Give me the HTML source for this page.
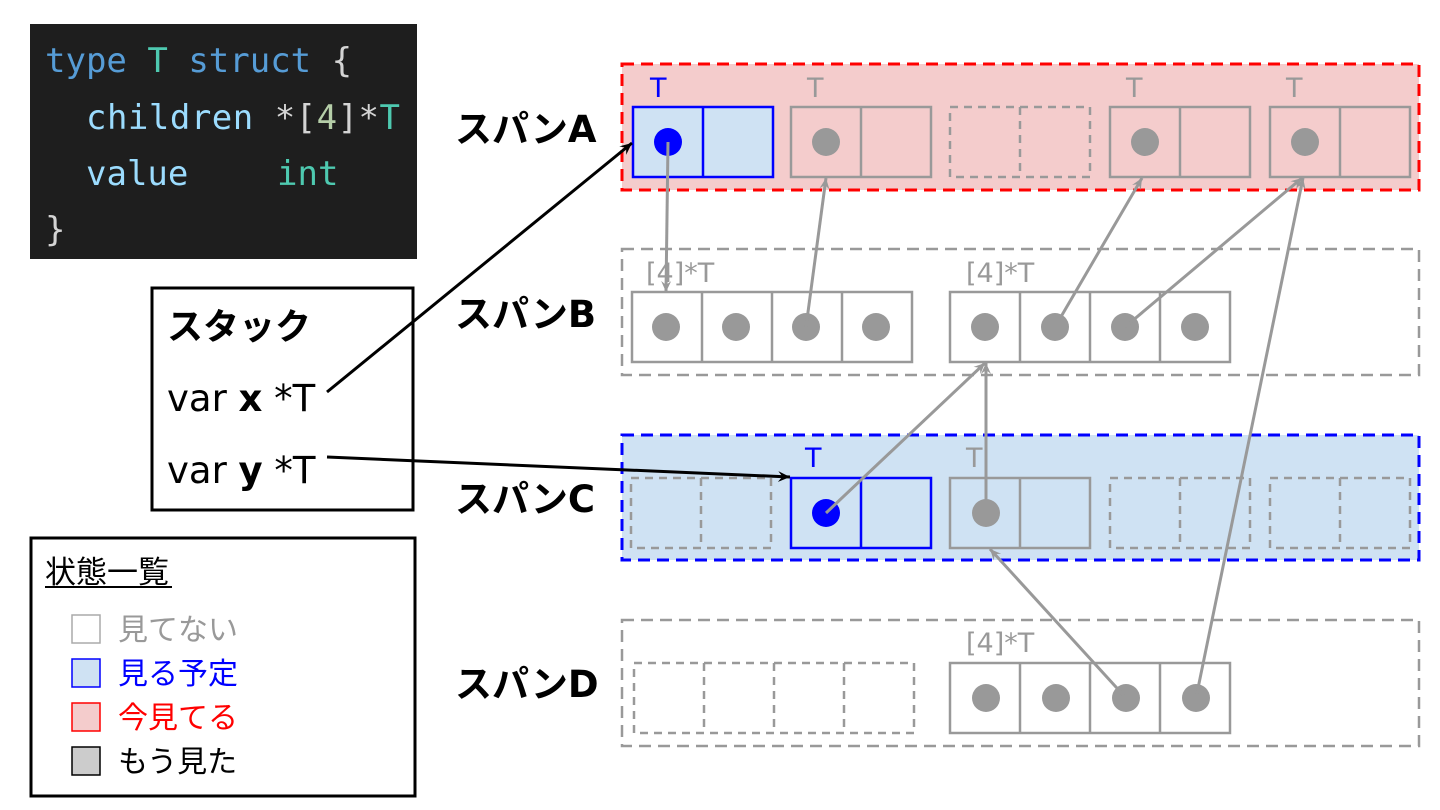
<!DOCTYPE html>
<html><head><meta charset="utf-8"><style>
html,body{margin:0;padding:0;background:#fff;width:1440px;height:810px;overflow:hidden}
svg text{font-family:"DejaVu Sans","Noto Sans CJK JP",sans-serif}
svg text.mono{font-family:"DejaVu Sans Mono","Liberation Mono",monospace}
</style></head><body>
<svg width="1440" height="810" viewBox="0 0 1440 810" xmlns="http://www.w3.org/2000/svg">
<defs>
<marker id="ag" viewBox="0 0 12 12" refX="11" refY="6" markerWidth="12" markerHeight="12" markerUnits="userSpaceOnUse" orient="auto"><path d="M0,1 L11,6 L0,11 L4,6 Z" fill="#999"/></marker>
<marker id="ak" viewBox="0 0 12 12" refX="11" refY="6" markerWidth="13" markerHeight="13" markerUnits="userSpaceOnUse" orient="auto"><path d="M0,1 L11,6 L0,11 L4,6 Z" fill="#000"/></marker>
</defs>
<!-- code block -->
<rect x="30" y="24" width="387" height="235" fill="#1e1e1e"/>
<text class="mono" x="45" y="72" font-size="34"><tspan fill="#569cd6">type </tspan><tspan fill="#4ec9b0">T</tspan><tspan fill="#569cd6"> struct</tspan><tspan fill="#d4d4d4"> {</tspan></text>
<text class="mono" x="86" y="129" font-size="34" textLength="314"><tspan fill="#9cdcfe">children </tspan><tspan fill="#d4d4d4">*[</tspan><tspan fill="#b5cea8">4</tspan><tspan fill="#d4d4d4">]*</tspan><tspan fill="#4ec9b0">T</tspan></text>
<text class="mono" x="86" y="185" font-size="34" fill="#9cdcfe">value</text>
<text class="mono" x="277" y="185" font-size="34" fill="#4ec9b0">int</text>
<text class="mono" x="45" y="241" font-size="34" fill="#d4d4d4">}</text>
<!-- stack -->
<rect x="152" y="288" width="261" height="222" fill="#fff" stroke="#000" stroke-width="3"/>
<text x="167" y="339" font-size="36" font-weight="bold">スタック</text>
<text x="167" y="411" font-size="37">var <tspan font-weight="bold">x</tspan> *T</text>
<text x="167" y="483" font-size="37">var <tspan font-weight="bold">y</tspan> *T</text>
<!-- legend -->
<rect x="31" y="538" width="384" height="258" fill="#fff" stroke="#000" stroke-width="3"/>
<text x="45" y="583" font-size="31">状態一覧</text>
<line x1="45" y1="587" x2="172" y2="587" stroke="#000" stroke-width="2"/>
<rect x="72" y="615" width="28" height="28" fill="#fff" stroke="#aaa" stroke-width="1.5"/>
<text x="118" y="640" font-size="30" fill="#999">見てない</text>
<rect x="72" y="659" width="28" height="28" fill="#cfe2f3" stroke="#00f" stroke-width="1.5"/>
<text x="118" y="684" font-size="30" fill="#00f">見る予定</text>
<rect x="72" y="703" width="28" height="28" fill="#f4cccc" stroke="#f00" stroke-width="1.5"/>
<text x="118" y="728" font-size="30" fill="#f00">今見てる</text>
<rect x="72" y="747" width="28" height="28" fill="#ccc" stroke="#000" stroke-width="1.5"/>
<text x="118" y="772" font-size="30" fill="#000">もう見た</text>
<!-- span labels -->
<g font-size="37" font-weight="bold">
<text x="455" y="142">スパンA</text>
<text x="455" y="327">スパンB</text>
<text x="455" y="512">スパンC</text>
<text x="455" y="697">スパンD</text>
</g>
<!-- span frames -->
<rect x="622" y="64" width="797" height="126" fill="#f4cccc" stroke="#f00" stroke-width="3" stroke-dasharray="12,7"/>
<rect x="622" y="249" width="797" height="126" fill="#fff" stroke="#999" stroke-width="2.5" stroke-dasharray="12,7"/>
<rect x="622" y="435" width="797" height="125" fill="#cfe2f3" stroke="#00f" stroke-width="3" stroke-dasharray="12,7"/>
<rect x="622" y="620" width="797" height="126" fill="#fff" stroke="#999" stroke-width="2.5" stroke-dasharray="12,7"/>
<!-- span A cells -->
<g stroke-width="2.5" fill="none">
<rect x="633" y="107" width="140" height="70" fill="#cfe2f3" stroke="#00f"/><line x1="703" y1="107" x2="703" y2="177" stroke="#00f"/>
<rect x="791" y="107" width="140" height="70" stroke="#999"/><line x1="861" y1="107" x2="861" y2="177" stroke="#999"/>
<rect x="950" y="107" width="140" height="70" stroke="#999" stroke-dasharray="8,6"/><line x1="1020" y1="107" x2="1020" y2="177" stroke="#999" stroke-dasharray="8,6"/>
<rect x="1110" y="107" width="140" height="70" stroke="#999"/><line x1="1180" y1="107" x2="1180" y2="177" stroke="#999"/>
<rect x="1270" y="107" width="140" height="70" stroke="#999"/><line x1="1340" y1="107" x2="1340" y2="177" stroke="#999"/>
</g>
<g font-size="27">
<text x="650" y="97" fill="#00f">T</text>
<text x="807" y="97" fill="#999">T</text>
<text x="1126" y="97" fill="#999">T</text>
<text x="1286" y="97" fill="#999">T</text>
<text x="646" y="282" fill="#999">[4]*T</text>
<text x="966" y="282" fill="#999">[4]*T</text>
<text x="805" y="467" fill="#00f">T</text>
<text x="966" y="467" fill="#999">T</text>
<text x="966" y="652" fill="#999">[4]*T</text>
</g>
<circle cx="668" cy="142" r="14" fill="#00f"/>
<circle cx="826" cy="142" r="14" fill="#999"/>
<circle cx="1145" cy="142" r="14" fill="#999"/>
<circle cx="1305" cy="142" r="14" fill="#999"/>
<!-- span B cells -->
<g stroke="#999" stroke-width="2.5" fill="none">
<rect x="632" y="292" width="280" height="70"/><line x1="702" y1="292" x2="702" y2="362"/><line x1="772" y1="292" x2="772" y2="362"/><line x1="842" y1="292" x2="842" y2="362"/>
<rect x="950" y="292" width="280" height="70"/><line x1="1020" y1="292" x2="1020" y2="362"/><line x1="1090" y1="292" x2="1090" y2="362"/><line x1="1160" y1="292" x2="1160" y2="362"/>
</g>
<g fill="#999">
<circle cx="666" cy="327" r="14"/><circle cx="736" cy="327" r="14"/><circle cx="806" cy="327" r="14"/><circle cx="876" cy="327" r="14"/>
<circle cx="985" cy="327" r="14"/><circle cx="1055" cy="327" r="14"/><circle cx="1125" cy="327" r="14"/><circle cx="1195" cy="327" r="14"/>
</g>
<!-- span C cells -->
<g stroke-width="2.5" fill="none">
<rect x="631" y="478" width="140" height="70" stroke="#999" stroke-dasharray="8,6"/><line x1="701" y1="478" x2="701" y2="548" stroke="#999" stroke-dasharray="8,6"/>
<rect x="791" y="478" width="140" height="70" stroke="#00f"/><line x1="861" y1="478" x2="861" y2="548" stroke="#00f"/>
<rect x="950" y="478" width="140" height="70" stroke="#999"/><line x1="1020" y1="478" x2="1020" y2="548" stroke="#999"/>
<rect x="1110" y="478" width="140" height="70" stroke="#999" stroke-dasharray="8,6"/><line x1="1180" y1="478" x2="1180" y2="548" stroke="#999" stroke-dasharray="8,6"/>
<rect x="1270" y="478" width="140" height="70" stroke="#999" stroke-dasharray="8,6"/><line x1="1340" y1="478" x2="1340" y2="548" stroke="#999" stroke-dasharray="8,6"/>
</g>
<circle cx="826" cy="513" r="14" fill="#00f"/>
<circle cx="986" cy="513" r="14" fill="#999"/>
<!-- span D cells -->
<g stroke="#999" stroke-width="2.5" fill="none">
<g stroke-dasharray="8,6"><rect x="634" y="663" width="280" height="70"/><line x1="704" y1="663" x2="704" y2="733"/><line x1="774" y1="663" x2="774" y2="733"/><line x1="844" y1="663" x2="844" y2="733"/></g>
<rect x="950" y="663" width="280" height="70"/><line x1="1020" y1="663" x2="1020" y2="733"/><line x1="1090" y1="663" x2="1090" y2="733"/><line x1="1160" y1="663" x2="1160" y2="733"/>
</g>
<g fill="#999">
<circle cx="986" cy="698" r="14"/><circle cx="1056" cy="698" r="14"/><circle cx="1126" cy="698" r="14"/><circle cx="1196" cy="698" r="14"/>
</g>
<!-- arrows gray -->
<g stroke="#999" stroke-width="3" fill="none" marker-end="url(#ag)">
<line x1="668" y1="142" x2="666" y2="292"/>
<line x1="806" y1="327" x2="826" y2="178"/>
<line x1="1055" y1="327" x2="1142" y2="178"/>
<line x1="1125" y1="327" x2="1302" y2="178"/>
<line x1="826" y1="513" x2="985" y2="363"/>
<line x1="986" y1="513" x2="986" y2="363"/>
<line x1="1126" y1="698" x2="990" y2="549"/>
<line x1="1196" y1="698" x2="1303" y2="178"/>
</g>
<g stroke="#000" stroke-width="3" fill="none" marker-end="url(#ak)">
<line x1="327" y1="392" x2="632" y2="143"/>
<line x1="327" y1="457" x2="790" y2="477"/>
</g>
</svg>
</body></html>
